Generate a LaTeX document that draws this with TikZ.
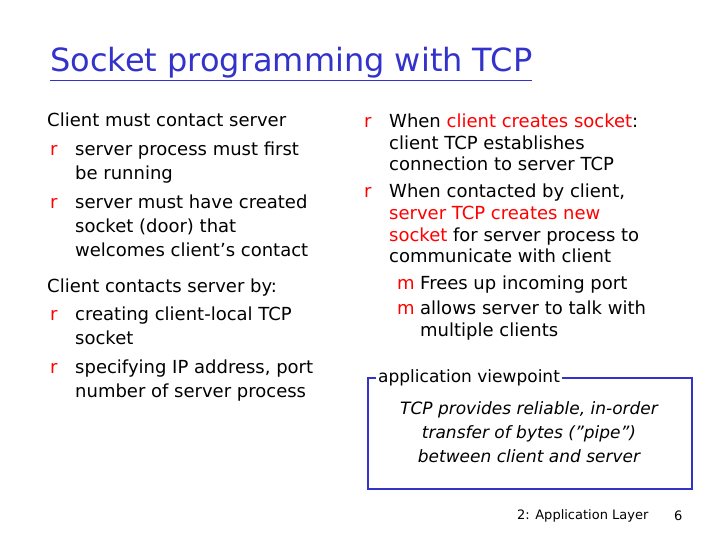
\documentclass[tikz,border=0pt]{standalone}
\usepackage{fontspec}
\setmainfont{DejaVu Sans}
\begin{document}
\begin{tikzpicture}[x=1pt,y=-1pt,
  txt/.style={anchor=west,inner sep=0pt,text height=13pt,text depth=4pt,font=\fontsize{18}{24}\selectfont},
  bul/.style={txt,text=red},
  foot/.style={anchor=west,inner sep=0pt,font=\fontsize{13}{16}\selectfont}]
\useasboundingbox (0,0) rectangle (720,540);
\definecolor{tblue}{RGB}{51,51,204}
\node[anchor=west,inner sep=0pt,text=tblue,font=\fontsize{32}{38}\selectfont] (title) at (50,64) {\underline{Socket programming with TCP}};
% left column
\node[txt] (l1) at (47,122) {Client must contact server};
\node[bul] (b1) at (50,151) {r}; \node[txt] (l2) at (75,151) {server process must first};
\node[txt] (l3) at (75,175) {be running};
\node[bul] (b2) at (50,204) {r}; \node[txt] (l4) at (75,204) {server must have created};
\node[txt] (l5) at (75,228) {socket (door) that};
\node[txt] (l6) at (75,252) {welcomes client’s contact};
\node[txt] (l7) at (47,288) {Client contacts server by:};
\node[bul] (b3) at (50,316) {r}; \node[txt] (l8) at (75,316) {creating client-local TCP};
\node[txt] (l9) at (75,340) {socket};
\node[bul] (b4) at (50,369) {r}; \node[txt] (l10) at (75,369) {specifying IP address, port};
\node[txt] (l11) at (75,393) {number of server process};
% right column
\node[bul] (b5) at (364,123) {r}; \node[txt] (r1) at (389,123) {When \textcolor{red}{client creates socket}:};
\node[txt] (r2) at (389,145) {client TCP establishes};
\node[txt] (r3) at (389,166) {connection to server TCP};
\node[bul] (b6) at (364,193) {r}; \node[txt] (r4) at (389,193) {When contacted by client,};
\node[txt,text=red] (r5) at (389,215) {server TCP creates new};
\node[txt] (r6) at (389,237) {\textcolor{red}{socket} for server process to};
\node[txt] (r7) at (389,258) {communicate with client};
\node[bul] (b7) at (397,285) {m}; \node[txt] (r8) at (420,285) {Frees up incoming port};
\node[bul] (b8) at (397,310) {m}; \node[txt] (r9) at (420,310) {allows server to talk with};
\node[txt] (r10) at (420,332) {multiple clients};
% box
\draw[tblue,line width=2.5pt] (368,378) rectangle (692,489);
\node[anchor=west,fill=white,inner sep=2pt,font=\fontsize{17}{24}\selectfont] (av) at (376,378) {application viewpoint};
\node[inner sep=0pt,align=center,font=\fontsize{17}{24}\itshape\selectfont] (bx) at (529,432) {TCP provides reliable, in-order\\transfer of bytes (”pipe”)\\between client and server};
\node[foot] (f1) at (517,516) {2: Application Layer};
\node[foot] (f2) at (674,516) {6};
\end{tikzpicture}
\end{document}
